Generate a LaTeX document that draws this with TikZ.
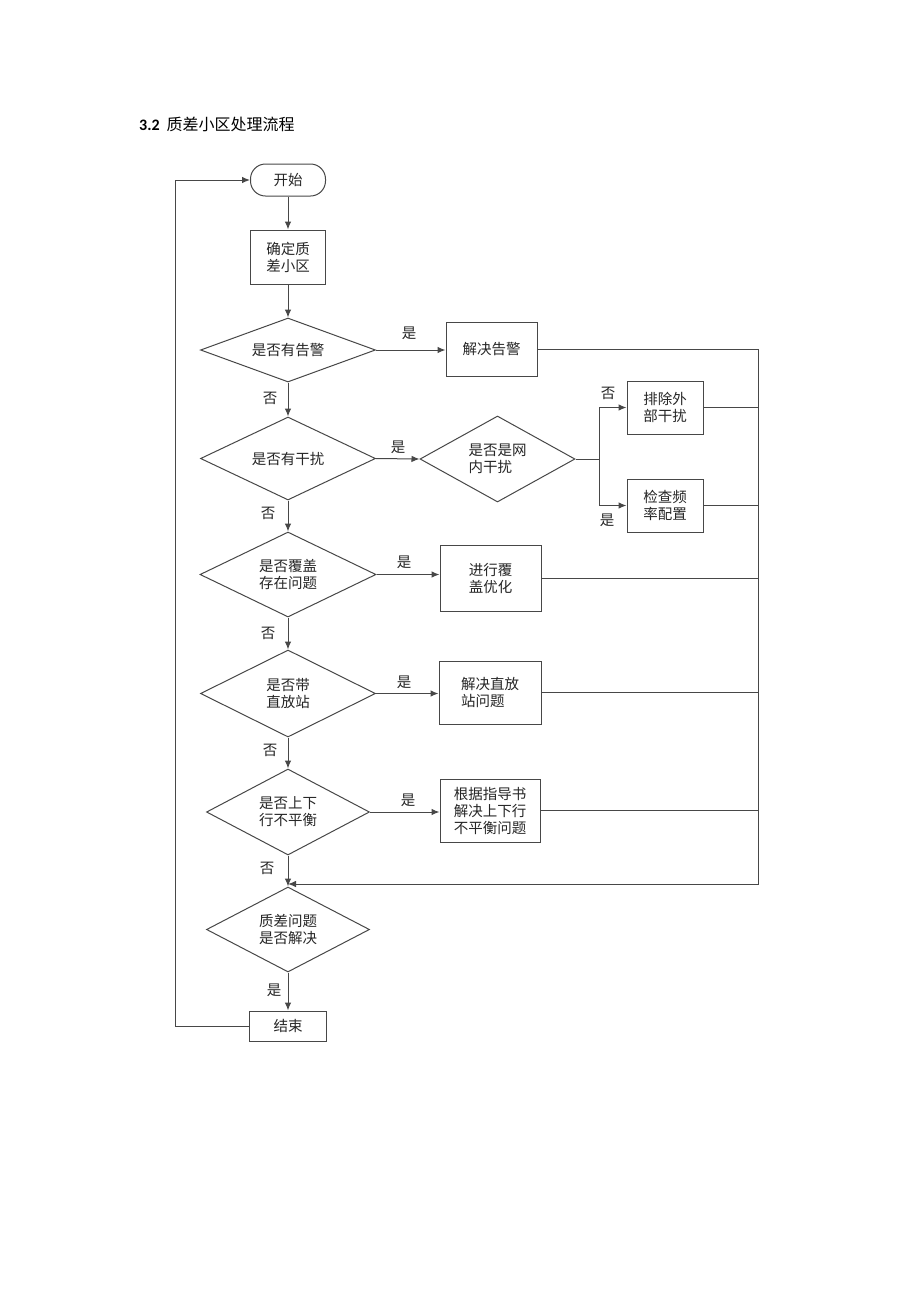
\documentclass[tikz,border=0pt]{standalone}
\usepackage{fontspec}
\setmainfont{Noto Sans CJK SC}
\newfontfamily\latfont{Carlito}
\usetikzlibrary{arrows.meta,shapes.geometric}
\tikzset{
  ln/.style={draw=black!72, line width=1pt},
  arr/.style={ln, -{Latex[length=8pt,width=6.5pt]}},
  txt/.style={font=\fontsize{14.5}{17}\selectfont, text=black!85},
  boxn/.style={txt, draw=black!72, line width=1pt, rectangle, inner sep=0pt, align=left},
  dia/.style={txt, draw=black!72, line width=1pt, diamond, inner sep=0pt, align=center},
  lbl/.style={txt, inner sep=0pt}
}
\begin{document}
\begin{tikzpicture}[x=1pt,y=-1pt]
\useasboundingbox[fill=white] (0,0) rectangle (920,1302);
\node[anchor=west, inner sep=0pt, font=\fontsize{16}{18}\selectfont] (title) at (139,124) {{\latfont\bfseries 3.2}\hspace{7pt}质差小区处理流程};
% main column
\node[boxn, rounded corners=15pt, minimum width=75pt, minimum height=32pt, align=center] (start) at (288,180) {开始};
\node[boxn, minimum width=75pt, minimum height=54pt, align=center] (b0) at (288,257) {确定质\\差小区};
\node[dia, aspect=2.73, minimum width=175pt, minimum height=64pt] (d1) at (288,350) {是否有告警};
\node[dia, aspect=2.1, minimum width=175pt, minimum height=83pt] (d2) at (288,458.5) {是否有干扰};
\node[dia, aspect=2.07, minimum width=176pt, minimum height=85pt] (d4) at (288,574.5) {是否覆盖\\存在问题};
\node[dia, aspect=2.0, minimum width=175pt, minimum height=87pt] (d5) at (288,693.5) {是否带\\直放站};
\node[dia, aspect=1.9, minimum width=163pt, minimum height=86pt] (d6) at (288,812) {是否上下\\行不平衡};
\node[dia, aspect=1.92, minimum width=163pt, minimum height=85pt] (d7) at (288,929.5) {质差问题\\是否解决};
\node[boxn, minimum width=77pt, minimum height=30pt, align=center] (end) at (288,1026) {结束};
% right side
\node[boxn, minimum width=91pt, minimum height=54pt, align=center] (b1) at (491.5,349) {解决告警};
\node[dia, aspect=1.8, minimum width=155pt, minimum height=86pt, align=left] (d3) at (497.5,459) {是否是网\\内干扰};
\node[boxn, minimum width=76pt, minimum height=53pt, align=center] (b3a) at (665,407.5) {排除外\\部干扰};
\node[boxn, minimum width=76pt, minimum height=53pt, align=center] (b3b) at (665,505.5) {检查频\\率配置};
\node[boxn, minimum width=101pt, minimum height=66pt] (b4) at (490.5,578) {进行覆\\盖优化};
\node[boxn, minimum width=102pt, minimum height=63pt] (b5) at (490,692.5) {解决直放\\站问题};
\node[boxn, minimum width=100pt, minimum height=63pt] (b6) at (490,810.5) {根据指导书\\解决上下行\\不平衡问题};
% helper coordinates
\coordinate (rc) at (758,884);
\coordinate (m) at (288,884);
\coordinate (br) at (599,459);
\coordinate (lp) at (175,1026);
% labels
\node[lbl] (l1) at (409,333) {是};
\node[lbl] (l2) at (270,398) {否};
\node[lbl] (l3) at (398,447) {是};
\node[lbl] (l4) at (608,393) {否};
\node[lbl] (l5) at (607,520) {是};
\node[lbl] (l6) at (268,513) {否};
\node[lbl] (l7) at (404,562) {是};
\node[lbl] (l8) at (268,633) {否};
\node[lbl] (l9) at (404,682) {是};
\node[lbl] (l10) at (270,750) {否};
\node[lbl] (l11) at (408,800) {是};
\node[lbl] (l12) at (267,868) {否};
\node[lbl] (l13) at (274,990) {是};
% vertical flow
\draw[arr] (start) -- (b0);
\draw[arr] (b0) -- (d1);
\draw[arr] (d1) -- (d2);
\draw[arr] (d2) -- (d4);
\draw[arr] (d4) -- (d5);
\draw[arr] (d5) -- (d6);
\draw[ln] (d6.south) -- (m);
\draw[arr] (m) -- (d7.north);
\draw[arr] (d7) -- (end);
% yes branches
\draw[arr] (d1.east) -- (d1.east -| b1.west);
\draw[arr] (d2.east) -- (d3.west);
\draw[ln] (d3.east) -- (br);
\draw[arr] (br) |- (b3a.west);
\draw[arr] (br) |- (b3b.west);
\draw[arr] (d4.east) -- (d4.east -| b4.west);
\draw[arr] (d5.east) -- (d5.east -| b5.west);
\draw[arr] (d6.east) -- (d6.east -| b6.west);
% returns
\draw[arr] (b1.east) -| (rc) -- (m);
\draw[ln] (b3a.east) -- (b3a.east -| rc);
\draw[ln] (b3b.east) -- (b3b.east -| rc);
\draw[ln] (b4.east) -- (b4.east -| rc);
\draw[ln] (b5.east) -- (b5.east -| rc);
\draw[ln] (b6.east) -- (b6.east -| rc);
% loop back
\draw[arr] (end.west) -- (lp) |- (start.west);
\end{tikzpicture}
\end{document}
